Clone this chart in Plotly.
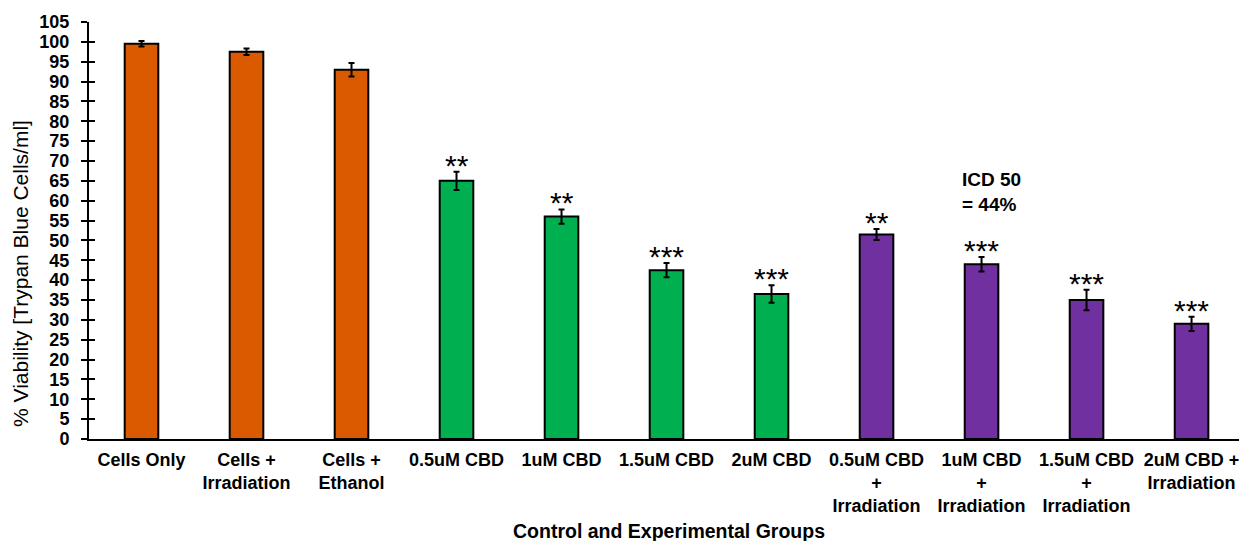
import plotly.graph_objects as go

categories = [
    "Cells Only", "Cells +<br>Irradiation", "Cells +<br>Ethanol",
    "0.5uM CBD", "1uM CBD", "1.5uM CBD", "2uM CBD",
    "0.5uM CBD<br>+<br>Irradiation", "1uM CBD<br>+<br>Irradiation",
    "1.5uM CBD<br>+<br>Irradiation", "2uM CBD +<br>Irradiation",
]
viability = [99.5, 97.5, 93.0, 65.0, 56.0, 42.5, 36.5, 51.5, 44.0, 35.0, 29.0]
errors = [0.7, 0.8, 1.7, 2.3, 1.8, 1.8, 2.2, 1.4, 1.8, 2.6, 1.8]
groups = ["control"] * 3 + ["cbd"] * 4 + ["cbd_irr"] * 4
significance = ["", "", "", "**", "**", "***", "***", "**", "***", "***", "***"]
group_colors = {"control": "#DB5A00", "cbd": "#00B050", "cbd_irr": "#7030A0"}

FONT = "Liberation Sans, Arial, sans-serif"

fig = go.Figure()
fig.add_trace(go.Bar(
    x=categories, y=viability,
    width=0.32,
    marker=dict(color=[group_colors[g] for g in groups],
                line=dict(color="black", width=2)),
    error_y=dict(type="data", array=errors, visible=True,
                 color="black", thickness=2, width=3),
    showlegend=False,
))

annotations = []
for c, v, e, s in zip(categories, viability, errors, significance):
    if s:
        annotations.append(dict(
            x=c, y=v + e, xref="x", yref="y", text=s, showarrow=False,
            yanchor="bottom", yshift=-12,
            font=dict(family=FONT, size=30, color="black"),
        ))

annotations.append(dict(
    x=(960 - 89) / 1150, xref="paper", y=62.2, yref="y",
    text="<b>ICD 50<br>= 44%</b>", showarrow=False, align="left",
    xanchor="left", yanchor="middle",
    font=dict(family=FONT, size=19, color="black"),
))
annotations.append(dict(
    x=(20 - 89) / 1150, xref="paper", y=(439 - 274) / 417, yref="paper",
    text="% Viability [Trypan Blue Cells/ml]", textangle=-90, showarrow=False,
    xanchor="center", yanchor="middle",
    font=dict(family=FONT, size=21, color="black"),
))
annotations.append(dict(
    x=(669 - 89) / 1150, xref="paper", y=(439 - 531) / 417, yref="paper",
    text="<b>Control and Experimental Groups</b>", showarrow=False,
    xanchor="center", yanchor="middle",
    font=dict(family=FONT, size=19.5, color="black"),
))

fig.update_layout(
    width=1239, height=541,
    margin=dict(l=89, r=0, t=22, b=102),
    paper_bgcolor="white", plot_bgcolor="white",
    font=dict(family=FONT, color="black"),
    annotations=annotations,
    xaxis=dict(
        type="category", range=[-0.5, 10.452],
        showline=True, linecolor="black", linewidth=2,
        ticks="", showgrid=False, zeroline=False,
        ticklabelstandoff=3,
        tickfont=dict(family=FONT, size=18, color="black", weight="bold"),
        automargin=False,
    ),
    yaxis=dict(
        range=[0, 105], dtick=5, tick0=0,
        showline=True, linecolor="black", linewidth=2,
        ticks="outside", ticklen=6, tickwidth=2, tickcolor="black",
        showgrid=False, zeroline=False,
        ticklabelstandoff=8,
        tickfont=dict(family=FONT, size=18, color="black", weight="bold"),
        automargin=False,
    ),
    yaxis2=dict(
        overlaying="y", matches="y", side="left",
        range=[0, 105], dtick=5, tick0=0,
        ticks="inside", ticklen=6, tickwidth=2, tickcolor="black",
        showticklabels=False, showgrid=False, zeroline=False, showline=False,
    ),
)
# invisible trace to make the overlay axis render its inside ticks
fig.add_trace(go.Scatter(x=[categories[0]], y=[viability[0]], yaxis="y2",
                         mode="markers", marker=dict(opacity=0),
                         showlegend=False, hoverinfo="skip"))

fig.write_html(
    "out.html",
    config={"displayModeBar": False},
    post_script="document.body.style.margin='0';document.body.style.overflow='hidden';",
)
